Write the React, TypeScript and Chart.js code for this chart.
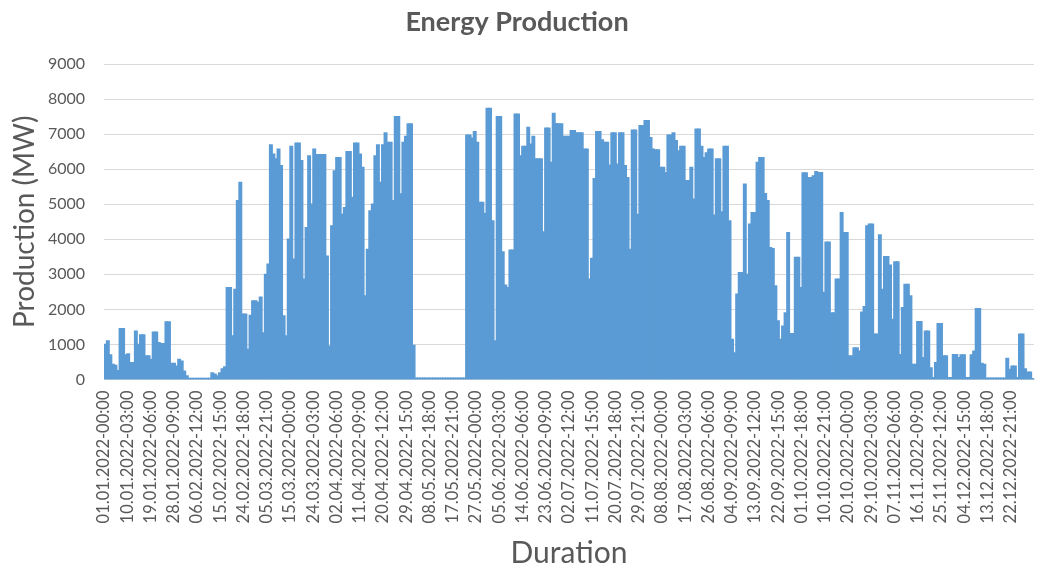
import React, { useEffect, useRef } from "react";
import { Chart, registerables } from "chart.js";

Chart.register(...registerables);

// Daily peak production (MW), one value per day of 2022, grouped by month.
const jan = [1000, 1100, 700, 430, 400, 250, 1450, 1450, 700, 730, 480, 480, 1380, 1000, 1270, 1270, 670, 670, 570, 1350, 1350, 1050, 1020, 1020, 1640, 1640, 460, 460, 380, 570, 520];
const feb = [240, 100, 30, 30, 30, 30, 30, 30, 30, 30, 30, 190, 150, 100, 190, 300, 360, 2620, 2620, 1240, 2570, 5100, 5620, 1860, 1860, 860, 1830, 2240];
const mar = [2240, 2200, 2350, 1330, 3000, 3290, 6690, 6430, 6290, 6570, 6100, 1810, 1240, 4000, 6650, 3430, 6740, 6740, 6240, 2860, 4330, 6380, 5000, 6570, 6410, 6410, 6410, 6410, 3520, 950, 4380];
const apr = [5950, 6330, 6330, 4710, 4900, 6500, 6500, 5190, 6740, 6740, 6430, 6050, 2380, 3710, 4810, 5000, 6380, 6690, 5620, 6690, 7030, 6760, 6760, 5100, 7500, 7500, 5290, 6760, 6930, 7290];
const may = [7290, 970, 40, 40, 40, 40, 40, 40, 40, 40, 40, 40, 40, 40, 40, 40, 40, 40, 40, 40, 40, 40, 6970, 6970, 6880, 7070, 6760, 5050, 5050, 4740, 7730];
const jun = [7730, 4520, 1100, 7500, 7500, 3640, 2690, 2620, 3690, 3690, 7570, 7570, 6380, 6650, 6650, 7190, 6710, 6930, 6290, 6290, 6290, 4210, 7170, 7170, 6190, 7590, 7300, 7290, 7290, 6930];
const jul = [6930, 6930, 7100, 7100, 7030, 7030, 7030, 6570, 6570, 2860, 3450, 5730, 7070, 7070, 6830, 6760, 6760, 6110, 7030, 7030, 6140, 7030, 7030, 6100, 5760, 3710, 7110, 7110, 4710, 7240, 7240];
const aug = [7380, 7380, 6900, 6570, 6550, 6550, 6050, 6050, 5900, 6970, 6970, 7030, 6810, 6520, 6650, 6650, 5670, 5670, 6050, 5140, 7140, 7140, 6650, 6330, 6460, 6570, 6570, 4690, 6290, 6290, 4780];
const sep = [6650, 6650, 4520, 1140, 760, 2430, 3050, 3050, 5570, 3000, 4430, 4760, 4760, 6190, 6330, 6330, 5300, 5100, 3760, 3730, 2670, 1670, 1140, 1520, 1900, 4190, 1310, 1310, 3480, 3480];
const oct = [2620, 5890, 5890, 5760, 5760, 5810, 5930, 5900, 5900, 2480, 3920, 3920, 1900, 1900, 2860, 2860, 4760, 4190, 4190, 670, 670, 900, 900, 810, 1920, 2080, 4380, 4430, 4430, 1290, 1290];
const nov = [4120, 2570, 3500, 3500, 3260, 1710, 3350, 3350, 710, 2050, 2710, 2710, 2380, 430, 430, 1650, 1650, 620, 1380, 1380, 330, 50, 480, 1590, 1590, 670, 670, 50, 50, 710];
const dec = [710, 620, 700, 700, 50, 50, 700, 810, 2020, 2020, 460, 430, 40, 40, 40, 40, 40, 40, 40, 40, 600, 290, 380, 380, 50, 1290, 1290, 300, 210, 210, 20];

const dailyPeakMW = [...jan, ...feb, ...mar, ...apr, ...may, ...jun, ...jul, ...aug, ...sep, ...oct, ...nov, ...dec];

// Axis labels, one every 219 hours (9 days 3 hours) of the hourly series.
const labelStepHours = 219;
const hoursPerDay = 24;
const hoursInYear = 8760;
const xTickLabels = [
  "01.01.2022-00:00", "10.01.2022-03:00", "19.01.2022-06:00", "28.01.2022-09:00",
  "06.02.2022-12:00", "15.02.2022-15:00", "24.02.2022-18:00", "05.03.2022-21:00",
  "15.03.2022-00:00", "24.03.2022-03:00", "02.04.2022-06:00", "11.04.2022-09:00",
  "20.04.2022-12:00", "29.04.2022-15:00", "08.05.2022-18:00", "17.05.2022-21:00",
  "27.05.2022-00:00", "05.06.2022-03:00", "14.06.2022-06:00", "23.06.2022-09:00",
  "02.07.2022-12:00", "11.07.2022-15:00", "20.07.2022-18:00", "29.07.2022-21:00",
  "08.08.2022-00:00", "17.08.2022-03:00", "26.08.2022-06:00", "04.09.2022-09:00",
  "13.09.2022-12:00", "22.09.2022-15:00", "01.10.2022-18:00", "10.10.2022-21:00",
  "20.10.2022-00:00", "29.10.2022-03:00", "07.11.2022-06:00", "16.11.2022-09:00",
  "25.11.2022-12:00", "04.12.2022-15:00", "13.12.2022-18:00", "22.12.2022-21:00",
];

const yMax = 9000;
const yStep = 1000;

const TEXT = "#595959";
const GRID = "#d9d9d9";
const BAR = "#5B9BD5";
const FONT = "Lato";

export default function App() {
  const canvasRef = useRef<HTMLCanvasElement | null>(null);

  useEffect(() => {
    const canvas = canvasRef.current;
    if (!canvas) return;

    const points = dailyPeakMW.map((v, d) => ({ x: d * hoursPerDay + hoursPerDay / 2, y: v }));

    const chart = new Chart(canvas, {
      type: "bar",
      data: {
        datasets: [
          {
            label: "Production",
            data: points,
            backgroundColor: BAR,
            borderWidth: 0,
            barPercentage: 1,
            categoryPercentage: 1,
            inflateAmount: 0.7,
          },
        ],
      },
      options: {
        responsive: false,
        animation: false,
        events: [],
        layout: { padding: { top: 0, right: 8, left: 0, bottom: 0 } },
        plugins: {
          legend: { display: false },
          tooltip: { enabled: false },
          title: {
            display: true,
            text: "Energy Production",
            color: TEXT,
            font: { family: FONT, size: 27, weight: "bold" },
            padding: { top: 6, bottom: 25.6 },
          },
        },
        scales: {
          x: {
            type: "linear",
            min: 0,
            max: hoursInYear,
            offset: false,
            grid: { display: false, drawTicks: false, offset: false },
            border: { display: true, color: GRID, width: 1 },
            afterBuildTicks: (axis: any) => {
              axis.ticks = xTickLabels.map((_, i) => ({ value: i * labelStepHours }));
            },
            afterFit: (axis: any) => {
              axis.height = 193.5;
            },
            ticks: {
              autoSkip: false,
              maxRotation: 90,
              minRotation: 90,
              padding: 11,
              color: TEXT,
              font: { family: FONT, size: 16.5 },
              callback: (_v: any, i: number) => xTickLabels[i],
            },
            title: {
              display: true,
              text: "Duration",
              color: TEXT,
              font: { family: FONT, size: 30 },
              padding: { top: 0, bottom: 2 },
            },
          },
          y: {
            min: 0,
            max: yMax,
            grid: { color: GRID, lineWidth: 1, drawTicks: false },
            border: { display: false },
            afterFit: (axis: any) => {
              axis.width = 104;
            },
            ticks: {
              stepSize: yStep,
              padding: 19,
              color: TEXT,
              font: { family: FONT, size: 16 },
              callback: (v: any) => String(v),
            },
            title: {
              display: true,
              text: "Production (MW)",
              color: TEXT,
              font: { family: FONT, size: 28 },
              padding: { top: 8, bottom: 0 },
            },
          },
        },
      },
    } as any);

    return () => chart.destroy();
  }, []);

  return (
    <div style={{ position: "fixed", left: 0, top: 0, width: 1042, height: 573, background: "#ffffff" }}>
      <canvas ref={canvasRef} width={1042} height={573} style={{ display: "block", width: 1042, height: 573 }} />
    </div>
  );
}
